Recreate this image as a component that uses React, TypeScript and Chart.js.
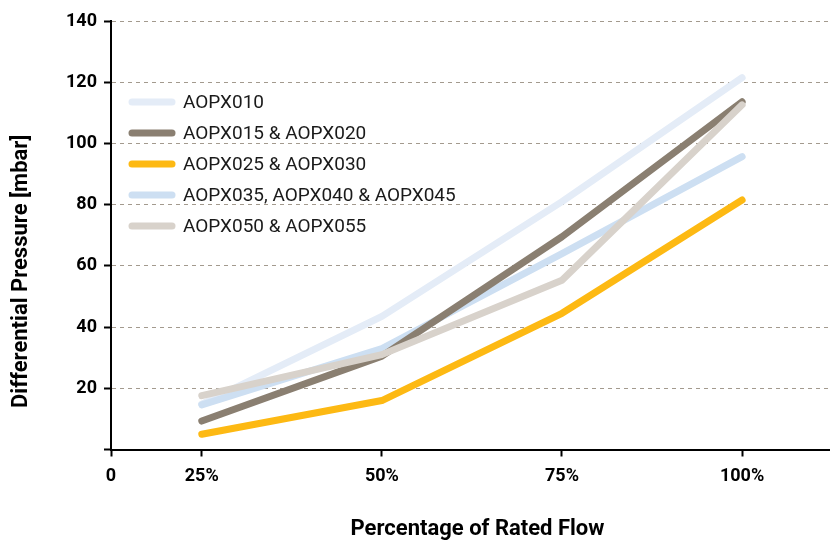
import React, { useEffect, useRef } from "react";
import { Chart, registerables } from "chart.js";

Chart.register(...registerables);

const flowPercent = [25, 50, 75, 100];
const xTickLabels = ["0", "25%", "50%", "75%", "100%"];
const seriesNames = [
  "AOPX010",
  "AOPX015 & AOPX020",
  "AOPX025 & AOPX030",
  "AOPX035, AOPX040 & AOPX045",
  "AOPX050 & AOPX055",
];
const aopx010 = [14.8, 43.5, 81, 121.5];
const aopx015 = [9.3, 30.5, 69.5, 113.6];
const aopx025 = [5.0, 16.0, 44.5, 81.5];
const aopx035 = [14.6, 33, 64, 95.7];
const aopx050 = [17.6, 31, 55.3, 112.6];
const seriesColors = ["#e4ecf7", "#8a7f71", "#fdb913", "#cddff2", "#d8d2cb"];
const drawOrder = [3, 1, 4, 2, 0];

const X_MIN = 12.4;
const X_MAX = 112.2;
const FONT = "Roboto";

const legendPlugin = {
  id: "insideLegend",
  afterDraw(chart: any) {
    const { ctx, chartArea } = chart;
    ctx.save();
    const x0 = chartArea.left + 21;
    const y0 = chartArea.top + 81;
    const step = 31;
    chart.data.datasets.forEach((ds: any, i: number) => {
      const y = y0 + i * step;
      ctx.beginPath();
      ctx.lineWidth = 7;
      ctx.lineCap = "round";
      ctx.strokeStyle = ds.borderColor;
      ctx.moveTo(x0, y);
      ctx.lineTo(x0 + 40, y);
      ctx.stroke();
      ctx.fillStyle = "#1a1a1a";
      ctx.font = `400 19px ${FONT}`;
      ctx.textAlign = "left";
      ctx.textBaseline = "middle";
      ctx.fillText(ds.label, x0 + 51, y + 1);
    });
    ctx.restore();
  },
};

const titlesPlugin = {
  id: "axisTitles",
  afterDraw(chart: any) {
    const { ctx, chartArea } = chart;
    ctx.save();
    ctx.fillStyle = "#000";
    ctx.font = `700 22px ${FONT}`;
    ctx.textAlign = "center";
    ctx.textBaseline = "middle";
    ctx.fillText("Percentage of Rated Flow", (chartArea.left + chartArea.right) / 2 + 7, chartArea.bottom + 80);
    ctx.translate(21, (chartArea.top + chartArea.bottom) / 2 + 36);
    ctx.rotate(-Math.PI / 2);
    ctx.fillText("Differential Pressure [mbar]", 0, 0);
    ctx.restore();
  },
};

export default function App() {
  const ref = useRef<HTMLCanvasElement>(null);
  useEffect(() => {
    document.body.style.margin = "0";
    const allSeries = [aopx010, aopx015, aopx025, aopx035, aopx050];
    const chart = new Chart(ref.current as HTMLCanvasElement, {
      type: "line",
      data: {
        datasets: allSeries.map((vals, i) => ({
          label: seriesNames[i],
          data: flowPercent.map((x, j) => ({ x, y: vals[j] })),
          borderColor: seriesColors[i],
          backgroundColor: seriesColors[i],
          borderWidth: 7,
          borderCapStyle: "round",
          borderJoinStyle: "round",
          pointRadius: 0,
          tension: 0,
          fill: false,
          order: drawOrder[i],
        })),
      },
      options: {
        animation: false,
        responsive: false,
        devicePixelRatio: 1,
        layout: { padding: { top: 21, left: 0, right: 0, bottom: 0 } },
        plugins: { legend: { display: false }, tooltip: { enabled: false } },
        scales: {
          x: {
            type: "linear",
            min: X_MIN,
            max: X_MAX,
            afterBuildTicks: (scale: any) => {
              scale.ticks = [X_MIN, ...flowPercent].map((v) => ({ value: v }));
            },
            afterFit: (scale: any) => {
              scale.height = 93.5;
            },
            ticks: {
              autoSkip: false,
              maxRotation: 0,
              color: "#000",
              padding: 9,
              font: { family: FONT, size: 18, weight: "bold" },
              callback: (_v: any, i: number) => xTickLabels[i],
            },
            grid: {
              drawOnChartArea: false,
              drawTicks: true,
              tickLength: 7,
              tickColor: "#000",
              tickWidth: 2,
            },
            border: { color: "#000", width: 2 },
          },
          y: {
            min: 0,
            max: 140,
            afterFit: (scale: any) => {
              scale.width = 111;
            },
            ticks: {
              stepSize: 20,
              color: "#000",
              padding: 7,
              font: { family: FONT, size: 18, weight: "bold" },
              callback: (v: any) => (v === 0 ? "" : String(v)),
            },
            grid: {
              color: "#a39a8e",
              lineWidth: 1,
              drawTicks: true,
              tickLength: 7,
              tickColor: "#000",
              tickWidth: 2,
              tickBorderDash: [],
            },
            border: { color: "#000", width: 2, dash: [4, 4] },
          },
        },
      } as any,
      plugins: [legendPlugin, titlesPlugin],
    });
    return () => chart.destroy();
  }, []);
  return (
    <div style={{ width: 830, height: 543 }}>
      <canvas ref={ref} width={830} height={543} />
    </div>
  );
}
